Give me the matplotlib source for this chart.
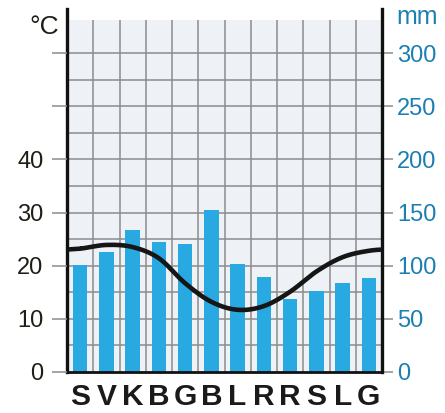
import numpy as np
import matplotlib.pyplot as plt

plt.rcParams['font.family'] = ['Liberation Sans', 'DejaVu Sans']

# climate data
months = ['S', 'V', 'K', 'B', 'G', 'B', 'L', 'R', 'R', 'S', 'L', 'G']
precip_mm = [101, 113, 134, 122, 120, 152, 102, 89, 69, 76, 84, 88]
temp_c = [23.2, 23.9, 23.5, 21.4, 16.7, 13.2, 11.7, 12.4, 15.1, 18.9, 21.6, 22.8]

mm_ticks = [0, 50, 100, 150, 200, 250, 300]
c_ticks = [0, 10, 20, 30, 40, 50, 60]
c_labels = ['0', '10', '20', '30', '40', '', '']

MM_PER_C = 5
TOP = 341.4      # axis top (mm), spines run up to here
BG_TOP = 331     # shaded box top (mm)

BAR_COL = '#29a9e1'
MM_COL = '#1b7fb1'
GRID_COL = '#8c8c8c'


def smooth_periodic(vals, per_seg=30):
    # catmull-rom through the monthly values, wrapped around the year
    v = np.array(vals, dtype=float)
    ext = np.concatenate([v[-2:], v, v[:2]])   # x = -1 .. 14
    xs, ys = [], []
    for i in range(1, len(ext) - 2):
        p0, p1, p2, p3 = ext[i - 1], ext[i], ext[i + 1], ext[i + 2]
        s = np.linspace(0, 1, per_seg)
        y = 0.5 * (2 * p1 + (-p0 + p2) * s + (2 * p0 - 5 * p1 + 4 * p2 - p3) * s ** 2
                   + (-p0 + 3 * p1 - 3 * p2 + p3) * s ** 3)
        xs.append(i - 1 + s)
        ys.append(y)
    return np.concatenate(xs), np.concatenate(ys)


fig = plt.figure(figsize=(4.45, 4.13), dpi=100)
ax = fig.add_axes([67 / 445, 1 - 372 / 413, (382 - 67) / 445, (372 - 9) / 413])
ax_t = ax.twinx()

x = np.arange(1, 13)
ax.set_xlim(0.5, 12.5)
ax.set_ylim(0, TOP)
ax_t.set_ylim(0, TOP / MM_PER_C)

# background box and grid
ax.set_facecolor('white')
ax.axhspan(0, BG_TOP, color='#eef2f7', zorder=0, lw=0)
ax.hlines(np.arange(25, 301, 25), 0.5, 12.5, color=GRID_COL, lw=1.1, zorder=1)
ax.vlines(np.arange(1.5, 12, 1), 0, BG_TOP, color=GRID_COL, lw=1.1, zorder=1)

ax.bar(x, precip_mm, width=0.55, color=BAR_COL, zorder=2)

tx, ty = smooth_periodic(temp_c)
ax_t.plot(tx, ty, color='#161616', lw=3.3, solid_capstyle='butt', zorder=5)

# right axis: mm
ax.yaxis.tick_right()
ax.set_yticks(mm_ticks)
ax.set_yticklabels([str(t) for t in mm_ticks])
ax.tick_params(axis='y', which='both', right=True, left=False, length=8, width=1.1,
               color=GRID_COL, labelcolor=MM_COL, labelsize=17, pad=3)

# left axis: deg C
ax_t.yaxis.tick_left()
ax_t.set_yticks(c_ticks)
ax_t.set_yticklabels(c_labels)
ax_t.tick_params(axis='y', left=True, right=False, length=11, width=1.1,
                 color=GRID_COL, labelcolor='#1e1e14', labelsize=17, pad=6)

ax.set_xticks(x)
ax.set_xticklabels(months, fontsize=21.5, fontweight='bold', color='#1a1a1a')
ax.tick_params(axis='x', length=0, pad=8)

for side in ['top', 'right', 'left', 'bottom']:
    ax_t.spines[side].set_visible(False)
ax.spines['top'].set_visible(False)
ax.spines['left'].set_linewidth(2.4)
ax.spines['right'].set_linewidth(2.4)
ax.spines['bottom'].set_linewidth(2)
for side in ['left', 'right', 'bottom']:
    ax.spines[side].set_color('#111111')
    ax.spines[side].set_zorder(6)

fig.text(44 / 445, 1 - 27 / 413, '°C', fontsize=19, color='#1e1e14', ha='center', va='center')
fig.text(417 / 445, 1 - 17 / 413, 'mm', fontsize=18, color=MM_COL, ha='center', va='center')

fig.savefig('out.png', dpi=100)
